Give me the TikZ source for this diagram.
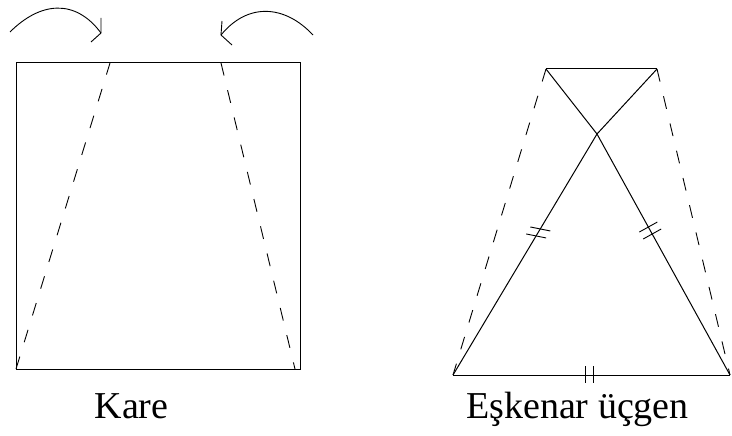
\documentclass[tikz,border=0pt]{standalone}
\usepackage{fontspec}
\setmainfont{Liberation Serif}
\usetikzlibrary{calc}
\begin{document}
\begin{tikzpicture}[x=1pt,y=-1pt,
  solidline/.style={line width=1pt,black},
  dashline/.style={line width=0.9pt,black,dash pattern=on 13pt off 15pt},
  tickline/.style={line width=0.9pt,black},
  lbl/.style={font=\fontsize{38}{40}\selectfont,anchor=base,inner sep=0pt}]
\useasboundingbox (0,0) rectangle (732,436);
% ---- left figure: square
\coordinate (SA) at (16,63);
\coordinate (SB) at (300,63);
\coordinate (SC) at (300,369);
\coordinate (SD) at (16,369);
\coordinate (F1) at (110,63);
\coordinate (F2) at (221,63);
\coordinate (G2) at (295,369);
\draw[solidline] (SA) -- (SB) -- (SC) -- (SD) -- cycle;
\draw[dashline] (SD) -- (F1);
\draw[dashline] (F2) -- (G2);
% curved arrows
\coordinate (A1s) at (10,32);
\coordinate (A1e) at (101,33);
\draw[tickline] (A1s) .. controls (40,2) and (75,-2) .. (A1e);
\draw[tickline] (101,18) -- (A1e) -- (91,42);
\coordinate (A2s) at (313,35);
\coordinate (A2e) at (221,35);
\draw[tickline] (A2s) .. controls (285,5) and (248,2) .. (A2e);
\draw[tickline] (222,21) -- (A2e) -- (232,45);
\node[lbl] (kare) at (131.5,418) {Kare};
% ---- right figure
\coordinate (TL) at (546,69);
\coordinate (TR) at (657,69);
\coordinate (X) at (597,134);
\coordinate (BL) at (453,375);
\coordinate (BR) at (730,375);
\draw[solidline] (TL) -- (TR);
\draw[solidline] (BL) -- (BR);
\draw[solidline] (TR) -- (X) -- (BL);
\draw[solidline] (TL) -- (X) -- (BR);
\draw[dashline] (TL) -- (BL);
\draw[dashline] (TR) -- (BR);
% equal marks
\path (X) -- (BL) coordinate[pos=0.394] (m1) coordinate[pos=0.423] (m2);
\draw[tickline] ($(m1)+(-10,-2)$) -- ($(m1)+(10,2)$);
\draw[tickline] ($(m2)+(-10,-2)$) -- ($(m2)+(10,2)$);
\path (X) -- (BR) coordinate[pos=0.386] (n1) coordinate[pos=0.415] (n2);
\draw[tickline] ($(n1)+(-9,5)$) -- ($(n1)+(9,-5)$);
\draw[tickline] ($(n2)+(-9,5)$) -- ($(n2)+(9,-5)$);
\draw[tickline] (585,366) -- (585,383);
\draw[tickline] (593,366) -- (593,383);
\node[lbl] (esk) at (577.5,418) {Eşkenar üçgen};
\end{tikzpicture}
\end{document}
